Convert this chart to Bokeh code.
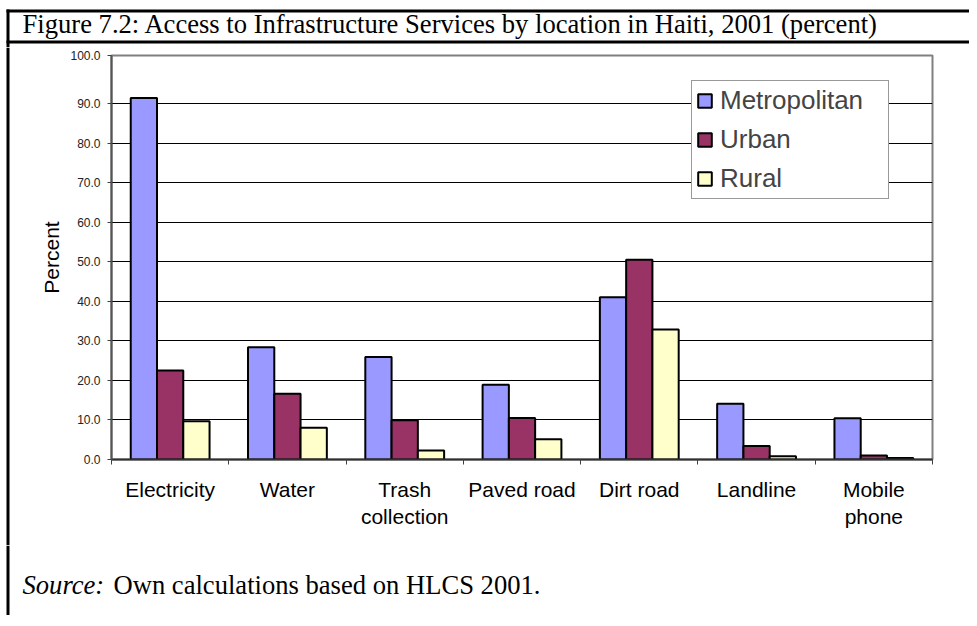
import numpy as np
from bokeh.plotting import figure
from bokeh.layouts import column, row
from bokeh.models import Range1d, FixedTicker, Legend, LegendItem
from bokeh.core.properties import value
from bokeh.embed import file_html
from bokeh.resources import INLINE

# ---------------- data ----------------
categories = ["Electricity", "Water", "Trash\ncollection", "Paved road",
              "Dirt road", "Landline", "Mobile\nphone"]
series_names = ["Metropolitan", "Urban", "Rural"]
metropolitan = [91.4, 28.4, 25.9, 18.9, 41.0, 14.1, 10.4]
urban = [22.5, 16.6, 9.9, 10.5, 50.5, 3.4, 1.0]
rural = [9.7, 8.0, 2.3, 5.1, 32.9, 0.8, 0.4]
y_tick_values = [0, 10, 20, 30, 40, 50, 60, 70, 80, 90]
y_tick_labels = ["0.0", "10.0", "20.0", "30.0", "40.0", "50.0", "60.0", "70.0", "80.0", "90.0"]
y_top_label = "100.0"
title_text = "Figure 7.2: Access to Infrastructure Services by location in Haiti, 2001 (percent)"
source_label = "Source:"
source_text = "Own calculations based on HLCS 2001."
y_axis_title = "Percent"

colors = ["#9999FF", "#993366", "#FFFFCC"]

# ---------------- layout (page pixels) ----------------
W = 969
H_TITLE = 47
STRIP = 12
H_MAIN = 498
H_SRC = 70
Y_TOP = 102.15  # axis top where the "100.0" label sits in the original
TXT_SHIFT = 8.5  # compensation for the text glyph's baseline placement

SANS = "Liberation Sans"
SERIF = "Liberation Serif"


def blank(width, height):
    f = figure(width=width, height=height, output_backend="svg", toolbar_location=None,
               title=None,
               x_range=Range1d(0, width), y_range=Range1d(height, 0),
               x_axis_location=None, y_axis_location=None,
               min_border=0, min_border_left=0, min_border_right=0,
               min_border_top=0, min_border_bottom=0,
               background_fill_color="white", border_fill_color="white")
    f.grid.visible = False
    f.outline_line_color = None
    return f


# --- title strip ---
pt = blank(W, H_TITLE)
pt.segment(x0=[6, 6, 7.5], y0=[10.5, 41.5, 9], x1=[W, W, 7.5], y1=[10.5, 41.5, H_TITLE],
           line_color="black", line_width=3)
pt.text(x=[22], y=[32 - TXT_SHIFT], text=[title_text], text_font=value(SERIF),
        text_font_size="26.6px", text_baseline="alphabetic", text_color="black")

# --- left border strip next to the chart ---
ps = blank(STRIP, H_MAIN)
ps.segment(x0=[7.5], y0=[0], x1=[7.5], y1=[H_MAIN], line_color="black", line_width=3)

# --- main chart ---
FL = 111 - STRIP
FT = 55 - H_TITLE
FB = H_MAIN - (459 - H_TITLE)
FR = W - 932
p = figure(width=W - STRIP, height=H_MAIN, output_backend="svg", toolbar_location=None,
           title=None,
           x_range=Range1d(0, len(categories)), y_range=Range1d(0, Y_TOP),
           min_border_left=FL, min_border_right=FR, min_border_top=FT,
           min_border_bottom=FB, background_fill_color="white",
           border_fill_color="white")

centers = np.arange(len(categories)) + 0.5
bw = 0.224
offsets = [-bw, 0.0, bw]
renderers = []
for vals, off, col in zip([metropolitan, urban, rural], offsets, colors):
    r = p.vbar(x=centers + off, top=vals, width=bw, bottom=0,
               fill_color=col, line_color="black", line_width=2)
    renderers.append(r)

xa = p.xaxis[0]
xa.ticker = FixedTicker(ticks=list(centers), minor_ticks=list(range(len(categories) + 1)))
xa.major_label_overrides = {float(c): lab for c, lab in zip(centers, categories)}
xa.major_tick_out = 0
xa.major_tick_in = 0
xa.minor_tick_out = 5
xa.minor_tick_in = 0
xa.minor_tick_line_color = "#404040"
xa.axis_line_color = "#303030"
xa.axis_line_width = 2
xa.major_label_text_font = SANS
xa.major_label_text_font_size = "21px"
xa.major_label_text_color = "black"
xa.major_label_standoff = 13

ya = p.yaxis[0]
ya.ticker = FixedTicker(ticks=y_tick_values + [Y_TOP], minor_ticks=[])
ov = {float(v): s for v, s in zip(y_tick_values, y_tick_labels)}
ov[float(Y_TOP)] = y_top_label
ya.major_label_overrides = ov
ya.major_tick_out = 4
ya.major_tick_in = 0
ya.major_tick_line_color = "#404040"
ya.axis_line_color = "#555555"
ya.axis_line_width = 2
ya.major_label_text_font = SANS
ya.major_label_text_font_size = "12px"
ya.major_label_text_color = "#222222"
ya.major_label_standoff = 7
ya.axis_label = y_axis_title
ya.axis_label_text_font = SANS
ya.axis_label_text_font_size = "21px"
ya.axis_label_text_font_style = "normal"
ya.axis_label_text_color = "black"
ya.axis_label_standoff = 4

p.xgrid.visible = False
p.ygrid.ticker = FixedTicker(ticks=y_tick_values[1:])
p.ygrid.grid_line_color = "black"
p.ygrid.grid_line_width = 1
p.outline_line_color = "#808080"
p.outline_line_width = 2

legend = Legend(items=[LegendItem(label=n, renderers=[r]) for n, r in zip(series_names, renderers)],
                location=(580, 260), padding=4, spacing=8, margin=0,
                glyph_width=17, glyph_height=17, label_standoff=7, label_width=164,
                label_text_font=SANS, label_text_font_size="26px",
                border_line_color="#333333", border_line_width=1,
                background_fill_color="white", background_fill_alpha=1.0)
p.add_layout(legend, "center")

# --- source strip ---
pb = blank(W, H_SRC)
pb.segment(x0=[7.5], y0=[0], x1=[7.5], y1=[H_SRC], line_color="black", line_width=3)
pb.text(x=[22], y=[48 - TXT_SHIFT], text=[source_label], text_font=value(SERIF),
        text_font_size="26.6px", text_font_style="italic", text_baseline="alphabetic",
        text_color="black")
pb.text(x=[113], y=[48 - TXT_SHIFT], text=[source_text], text_font=value(SERIF),
        text_font_size="26.6px", text_baseline="alphabetic", text_color="black")

# wrapping the strip in its own column keeps its frame from being aligned to the chart's
layout = column(pt, row(column(ps), p), pb)
open("out.html", "w").write(file_html(layout, INLINE))
